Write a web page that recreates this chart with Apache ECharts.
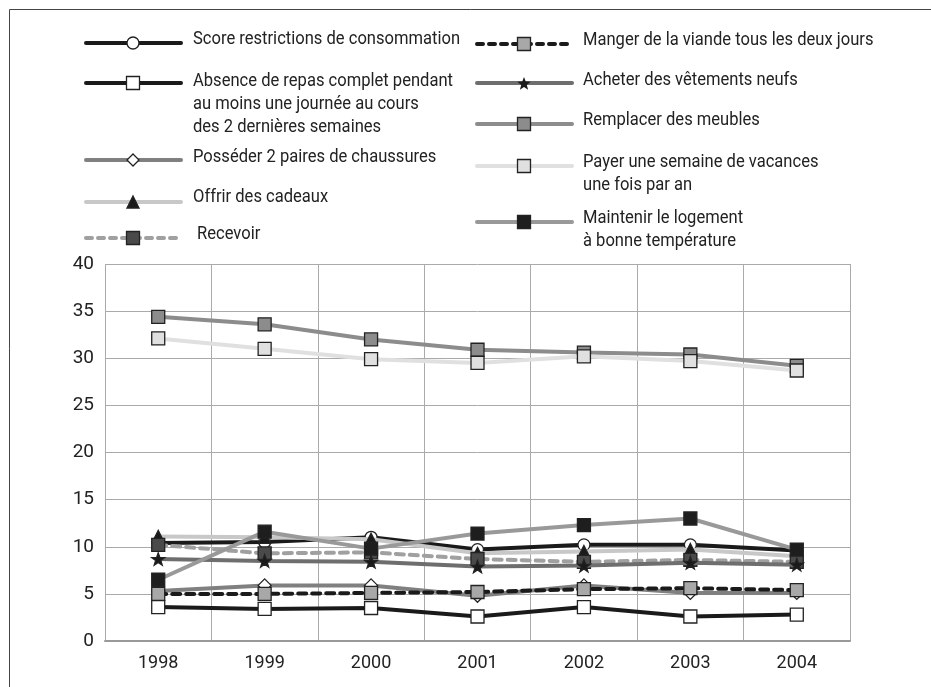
<!DOCTYPE html>
<html><head><meta charset="utf-8">
<script src="https://cdn.jsdelivr.net/npm/echarts@6/dist/echarts.min.js"></script>
<style>html,body{margin:0;padding:0;background:#fff}#c{width:931px;height:687px}</style>
</head><body><div id="c"></div>
<script>
const years = ['1998','1999','2000','2001','2002','2003','2004'];
const yTicks = [0,5,10,15,20,25,30,35,40];
const names = [
  'Score restrictions de consommation',
  'Absence de repas complet pendant\nau moins une journée au cours\ndes 2 dernières semaines',
  'Posséder 2 paires de chaussures',
  'Offrir des cadeaux',
  'Recevoir',
  'Manger de la viande tous les deux jours',
  'Acheter des vêtements neufs',
  'Remplacer des meubles',
  'Payer une semaine de vacances\nune fois par an',
  'Maintenir le logement\nà bonne température'
];
const scoreRestrictions = [10.4, 10.5, 11.0, 9.7, 10.2, 10.2, 9.6];
const absenceRepas      = [3.6, 3.4, 3.5, 2.6, 3.6, 2.6, 2.8];
const deuxPaires        = [5.3, 5.9, 5.9, 4.8, 5.9, 5.1, 5.1];
const cadeaux           = [11.1, 11.0, 10.8, 9.3, 9.5, 9.7, 9.0];
const recevoir          = [10.2, 9.3, 9.4, 8.7, 8.4, 8.6, 8.4];
const viande            = [5.0, 5.0, 5.1, 5.2, 5.5, 5.6, 5.4];
const vetements         = [8.7, 8.5, 8.4, 7.9, 8.0, 8.3, 8.1];
const meubles           = [34.4, 33.6, 32.0, 30.9, 30.6, 30.4, 29.2];
const vacances          = [32.1, 31.0, 29.9, 29.5, 30.2, 29.7, 28.7];
const logement          = [6.5, 11.6, 9.8, 11.4, 12.3, 13.0, 9.7];

const seriesData = [scoreRestrictions, absenceRepas, deuxPaires, cadeaux, recevoir, viande, vetements, meubles, vacances, logement];

const FONT = "Roboto, 'Liberation Sans', sans-serif";
const STAR = 'path://M0,-10L2.35,-3.24L9.51,-3.09L3.8,1.24L5.88,8.09L0,4L-5.88,8.09L-3.8,1.24L-9.51,-3.09L-2.35,-3.24Z';

const styles = [
  {lc:'#1a1a1a', dash:false, sym:'circle',   fill:'#ffffff', size:12},
  {lc:'#1a1a1a', dash:false, sym:'rect',     fill:'#ffffff', size:13},
  {lc:'#808080', dash:false, sym:'diamond',  fill:'#ffffff', size:13},
  {lc:'#c8c8c8', dash:false, sym:'triangle', fill:'#1a1a1a', size:12},
  {lc:'#a0a0a0', dash:true,  sym:'rect',     fill:'#4a4a4a', size:13},
  {lc:'#1a1a1a', dash:true,  sym:'rect',     fill:'#a8a8a8', size:13},
  {lc:'#6e6e6e', dash:false, sym:STAR,       fill:'#1a1a1a', size:13},
  {lc:'#8c8c8c', dash:false, sym:'rect',     fill:'#8c8c8c', size:13},
  {lc:'#e0e0e0', dash:false, sym:'rect',     fill:'#e0e0e0', size:13},
  {lc:'#999999', dash:false, sym:'rect',     fill:'#1e1e1e', size:13}
];

const series = seriesData.map((d, i) => {
  const s = styles[i];
  return {
    name: names[i], type: 'line', data: d,
    symbol: s.sym, symbolSize: s.size, symbolKeepAspect: true, showAllSymbol: true,
    lineStyle: {color: s.lc, width: 4, type: s.dash ? [8,6] : 'solid', cap: 'round'},
    itemStyle: {color: s.fill, borderColor: '#222', borderWidth: 1.3},
    emphasis: {disabled: true}, animation: false, z: 2 + i
  };
});

const legendPos = [
  {x0:86,  ly:43,  tx:193, ty:39},
  {x0:86,  ly:83,  tx:193, ty:81},
  {x0:86,  ly:160, tx:193, ty:157},
  {x0:86,  ly:202, tx:193, ty:197},
  {x0:86,  ly:238, tx:197, ty:234},
  {x0:477, ly:44,  tx:583, ty:40},
  {x0:477, ly:83,  tx:583, ty:80},
  {x0:477, ly:124, tx:583, ty:120},
  {x0:477, ly:166, tx:583, ty:162},
  {x0:477, ly:222, tx:583, ty:218}
];
function starPoints(cx, cy, R) {
  const pts = [];
  for (let k = 0; k < 10; k++) {
    const r = k % 2 === 0 ? R : R * 0.42;
    const a = -Math.PI/2 + k * Math.PI / 5;
    pts.push([cx + r*Math.cos(a), cy + r*Math.sin(a)]);
  }
  return pts;
}
const graphic = [{type:'rect', shape:{x:9.5, y:9.5, width:1000, height:1000}, style:{fill:'none', stroke:'#444', lineWidth:1}, silent:true}];
legendPos.forEach((p, i) => {
  const s = styles[i];
  const cx = p.x0 + 47;
  graphic.push({type:'line', shape:{x1:p.x0, y1:p.ly, x2:p.x0+95, y2:p.ly},
    style:{stroke:s.lc, lineWidth:4, lineDash: s.dash ? [6,6] : null, lineCap:'round'}, silent:true});
  const ms = {fill:s.fill, stroke:'#222', lineWidth:1.3};
  let m;
  if (s.sym === 'circle') m = {type:'circle', shape:{cx:cx, cy:p.ly, r:6}, style:ms};
  else if (s.sym === 'rect') m = {type:'rect', shape:{x:cx-6.5, y:p.ly-6.5, width:13, height:13}, style:ms};
  else if (s.sym === 'diamond') m = {type:'polygon', shape:{points:[[cx,p.ly-6],[cx+6,p.ly],[cx,p.ly+6],[cx-6,p.ly]]}, style:ms};
  else if (s.sym === 'triangle') m = {type:'polygon', shape:{points:[[cx,p.ly-6],[cx+6,p.ly+6],[cx-6,p.ly+6]]}, style:ms};
  else m = {type:'polygon', shape:{points:starPoints(cx, p.ly+1, 7)}, style:{fill:'#1a1a1a'}};
  m.silent = true; m.z = 10;
  graphic.push(m);
  graphic.push({type:'text', x:p.tx, y:p.ty - 11.5, scaleX:0.92, silent:true,
    style:{text:names[i], font:'18px ' + FONT, fill:'#222', lineHeight:23, verticalAlign:'top', align:'left'}});
});

const chart = echarts.init(document.getElementById('c'));
chart.setOption({
  animation: false,
  backgroundColor: '#fff',
  grid: {left:105, right:81, top:264, bottom:46, containLabel:false},
  xAxis: {
    type:'category', data: years, boundaryGap: true,
    axisLine: {show:true, lineStyle:{color:'#999', width:2}},
    axisTick: {show:false},
    splitLine: {show:true, lineStyle:{color:'#aaa', width:1}},
    axisLabel: {fontFamily: FONT, fontSize:18, color:'#222', margin:13}
  },
  yAxis: {
    type:'value', min: yTicks[0], max: yTicks[yTicks.length-1], interval: 5,
    axisLine: {show:false}, axisTick:{show:false},
    splitLine: {show:true, lineStyle:{color:'#aaa', width:1}},
    axisLabel: {fontFamily: FONT, fontSize:19, color:'#222', margin:11, padding:[12,0,0,0]}
  },
  series: series,
  graphic: graphic
});
</script></body></html>
